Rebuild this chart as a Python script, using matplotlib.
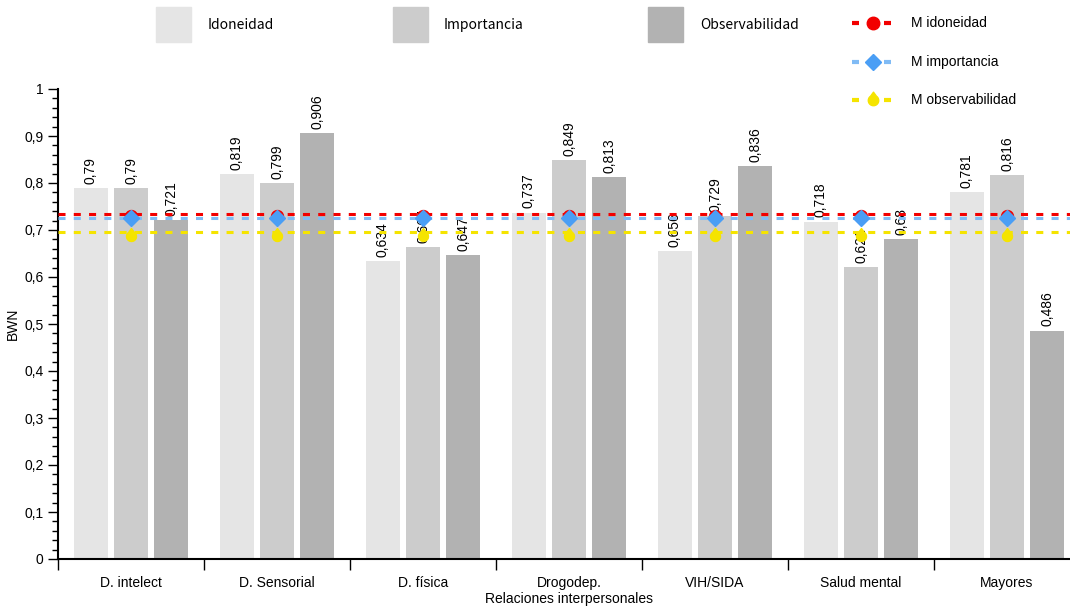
import numpy as np
import matplotlib
matplotlib.use("Agg")
import matplotlib.pyplot as plt
from matplotlib.path import Path
from matplotlib.lines import Line2D
from matplotlib.patches import Rectangle
from matplotlib.ticker import MultipleLocator, FixedLocator

# data
categories = ["D. intelect", "D. Sensorial", "D. física", "Drogodep.", "VIH/SIDA", "Salud mental", "Mayores"]
idoneidad = [0.79, 0.819, 0.634, 0.737, 0.656, 0.718, 0.781]
importancia = [0.79, 0.799, 0.664, 0.849, 0.729, 0.621, 0.816]
observabilidad = [0.721, 0.906, 0.647, 0.813, 0.836, 0.68, 0.486]
m_idoneidad = 0.734
m_importancia = 0.726
m_observabilidad = 0.696
pt_idoneidad = 0.729
pt_importancia = 0.726
pt_observabilidad = 0.687

plt.rcParams['font.family'] = ['Liberation Sans', 'DejaVu Sans']

W, H = 1070, 611

# teardrop marker for the yellow series
arc = Path.arc(125, 415)
verts = np.vstack([arc.vertices, [[0, 1.6]], [[0, 0]]])
codes = list(arc.codes) + [Path.LINETO, Path.CLOSEPOLY]
drop = Path(verts, codes)

red, blue_l, blue_m, yellow = "#f20000", "#80bbf5", "#4a9ef5", "#f5e400"

fig = plt.figure(figsize=(W/100, H/100), dpi=100)
ax = fig.add_axes([58/W, 52/H, 1022/W, 470/H])

x = np.arange(len(categories)) + 0.5
w = 0.233
off = 0.274
series = [(idoneidad, "#e5e5e5", -off), (importancia, "#cccccc", 0), (observabilidad, "#b2b2b2", off)]
for vals, col, dx in series:
    ax.bar(x + dx, vals, width=w, color=col, zorder=1)
    for xi, v in zip(x + dx, vals):
        ax.annotate(str(v).replace(".", ","), (xi, v), xytext=(0, 3), textcoords="offset points",
                    rotation=90, ha="center", va="bottom", fontsize=10)

ax.axhline(m_observabilidad, color=yellow, lw=2.2, ls=(0, (2.3, 2.7)), zorder=3)
ax.axhline(m_importancia, color=blue_l, lw=2.2, ls=(0, (2.3, 2.7)), zorder=3)
ax.axhline(m_idoneidad, color=red, lw=2.2, ls=(0, (2.3, 2.7)), zorder=3)

ax.plot(x, [pt_observabilidad]*7, ls="none", marker=drop, ms=11.5, color=yellow, zorder=4)
ax.plot(x, [pt_idoneidad]*7, ls="none", marker="o", ms=8.6, color=red, zorder=4)
ax.plot(x, [pt_importancia]*7, ls="none", marker="D", ms=8, color=blue_m, zorder=5)

ax.set_xlim(0, 7)
ax.set_ylim(0, 1)
ax.spines["top"].set_visible(False)
ax.spines["right"].set_visible(False)
ax.spines["left"].set_linewidth(1.5)
ax.spines["bottom"].set_linewidth(1.5)

ax.yaxis.set_minor_locator(MultipleLocator(0.02))
ax.set_yticks(np.arange(0, 1.01, 0.1))
ax.set_yticklabels(["0"] + [("%.1f" % v).replace(".", ",") for v in np.arange(0.1, 0.95, 0.1)] + ["1"])
ax.tick_params(axis="y", which="major", length=7, width=1, labelsize=10)
ax.tick_params(axis="y", which="minor", length=4, width=1)

ax.xaxis.set_major_locator(FixedLocator(np.arange(0, 8)))
ax.xaxis.set_minor_locator(FixedLocator(x))
ax.xaxis.set_major_formatter(plt.NullFormatter())
ax.set_xticklabels(categories, minor=True)
ax.tick_params(axis="x", which="major", length=8, width=1)
ax.tick_params(axis="x", which="minor", length=0, labelsize=10, pad=12)

ax.set_ylabel("BWN", fontsize=10, labelpad=0)
ax.yaxis.set_label_coords(-38/1022, 0.5)
ax.set_xlabel("Relaciones interpersonales", fontsize=10, labelpad=2)

# bar legend across the top (drawn by hand to match the spacing)
leg_bars = [("Idoneidad", "#e5e5e5", 156, 208), ("Importancia", "#cccccc", 393, 444),
            ("Observabilidad", "#b2b2b2", 648, 700)]
for lab, col, px, tx in leg_bars:
    fig.add_artist(Rectangle((px/W, 1 - 42/H), 35/W, 35/H, color=col, transform=fig.transFigure))
    fig.text(tx/W, 1 - 25/H, lab, ha="left", va="center", fontsize=10, family="Noto Sans CJK JP")

# mean lines legend on the right
leg_lines = [("M idoneidad", red, red, "o", 9, 23), ("M importancia", blue_l, blue_m, "D", 8.5, 62),
             ("M observabilidad", yellow, yellow, drop, 12, 100)]
for lab, lc, mc, mk, ms, py in leg_lines:
    yy = 1 - py/H
    for x0, x1 in [(852, 859), (884, 891)]:
        fig.add_artist(Line2D([x0/W, x1/W], [yy, yy], color=lc, lw=3, solid_capstyle="butt",
                              transform=fig.transFigure))
    fig.add_artist(Line2D([873/W], [yy], color=mc, marker=mk, ms=ms, ls="none", transform=fig.transFigure))
    fig.text(911/W, yy, lab, ha="left", va="center", fontsize=10)

fig.savefig("out.png", dpi=100)
